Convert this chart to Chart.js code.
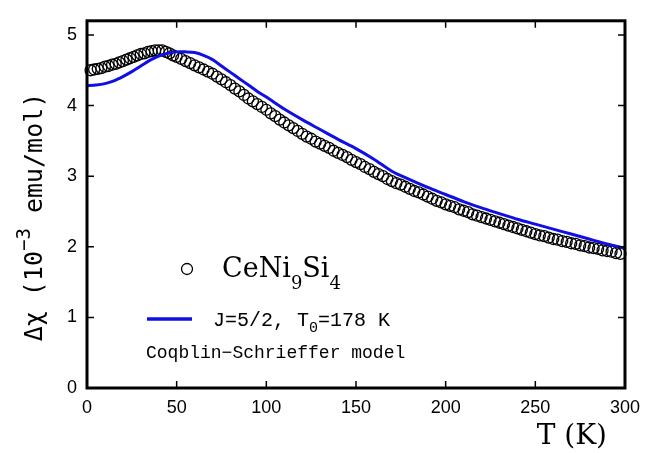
<!DOCTYPE html>
<html>
<head>
<meta charset="utf-8">
<script src="https://cdn.jsdelivr.net/npm/chart.js@4.4.1/dist/chart.umd.min.js"></script>
<style>
  html, body { margin: 0; padding: 0; background: #fff; }
  #wrap { width: 649px; height: 453px; position: relative; }
</style>
</head>
<body>
<div id="wrap"><canvas id="chi-chart"></canvas></div>
<script>
// Measured data: temperature (K) and delta chi (10^-3 emu/mol)
const dataT = [
  2, 4, 6, 8, 10, 12, 14, 16, 18, 20,
  22, 24, 26, 28, 30, 32, 34, 36, 38, 40,
  42, 44, 46, 48, 50,
  52.5, 55, 57.5, 60, 62.5, 65, 67.5, 70, 72.5, 75,
  77.5, 80, 82.5, 85, 87.5, 90, 92.5, 95, 97.5, 100,
  102.5, 105, 107.5, 110, 112.5, 115, 117.5, 120, 122.5, 125,
  127.5, 130, 132.5, 135, 137.5, 140, 142.5, 145, 147.5, 150,
  152.5, 155, 157.5, 160, 162.5, 165, 167.5, 170, 172.5, 175,
  177.5, 180, 182.5, 185, 187.5, 190, 192.5, 195, 197.5, 200,
  202.5, 205, 207.5, 210, 212.5, 215, 217.5, 220, 222.5, 225,
  227.5, 230, 232.5, 235, 237.5, 240, 242.5, 245, 247.5, 250,
  252.5, 255, 257.5, 260, 262.5, 265, 267.5, 270, 272.5, 275,
  277.5, 280, 282.5, 285, 287.5, 290, 292.5, 295, 297.5,
];
const dataChi = [
  4.50, 4.51, 4.52, 4.53, 4.55, 4.56, 4.58, 4.59, 4.61, 4.63,
  4.65, 4.67, 4.69, 4.71, 4.73, 4.74, 4.76, 4.77, 4.78, 4.78,
  4.78, 4.76, 4.74, 4.71, 4.69,
  4.66, 4.63, 4.60, 4.57, 4.54, 4.51, 4.48, 4.45, 4.41, 4.37,
  4.33, 4.29, 4.24, 4.20, 4.15, 4.10, 4.06, 4.02, 3.98, 3.94,
  3.89, 3.85, 3.80, 3.76, 3.72, 3.68, 3.64, 3.60, 3.56, 3.53,
  3.49, 3.46, 3.43, 3.40, 3.36, 3.33, 3.30, 3.27, 3.23, 3.20,
  3.17, 3.13, 3.10, 3.06, 3.03, 3.00, 2.96, 2.93, 2.90, 2.88,
  2.85, 2.82, 2.79, 2.77, 2.74, 2.71, 2.68, 2.65, 2.63, 2.60,
  2.58, 2.56, 2.53, 2.51, 2.49, 2.46, 2.44, 2.42, 2.40, 2.38,
  2.36, 2.34, 2.32, 2.30, 2.28, 2.26, 2.24, 2.22, 2.20, 2.18,
  2.16, 2.15, 2.13, 2.11, 2.10, 2.08, 2.07, 2.05, 2.04, 2.02,
  2.01, 1.99, 1.98, 1.97, 1.95, 1.94, 1.93, 1.91, 1.90,
];

// Coqblin-Schrieffer model, J=5/2, T0=178 K
const fitT = [
  0, 5, 10, 15, 20, 25, 30, 35, 40, 45,
  50, 55, 60, 65, 70, 75, 80, 85, 90, 95,
  100, 110, 120, 130, 140, 150, 160, 170, 180, 190,
  200, 210, 220, 230, 240, 250, 260, 270, 280, 290, 300,
];
const fitChi = [
  4.28, 4.29, 4.31, 4.35, 4.41, 4.48, 4.56, 4.64, 4.70, 4.74,
  4.76, 4.76, 4.75, 4.71, 4.65, 4.56, 4.47, 4.38, 4.29, 4.20,
  4.12, 3.95, 3.80, 3.66, 3.52, 3.39, 3.24, 3.07, 2.95, 2.84,
  2.74, 2.64, 2.55, 2.47, 2.39, 2.32, 2.25, 2.18, 2.11, 2.04, 1.98,
];

const xTicks = [0, 50, 100, 150, 200, 250, 300];
const yTicks = [0, 1, 2, 3, 4, 5];

const BLUE = '#1010e6';

// Frame, inward ticks, axis titles and the in-plot legend
const framePlugin = {
  id: 'frame',
  afterDraw(c) {
    const { ctx, chartArea: a } = c;
    const xs = c.scales.x;
    const ys = c.scales.y;
    ctx.save();
    ctx.strokeStyle = '#000';
    ctx.lineWidth = 1.5;
    ctx.beginPath();
    xTicks.slice(1, -1).forEach((v) => {
      const px = xs.getPixelForValue(v);
      ctx.moveTo(px, a.bottom); ctx.lineTo(px, a.bottom - 7);
      ctx.moveTo(px, a.top); ctx.lineTo(px, a.top + 7);
    });
    yTicks.slice(1).forEach((v) => {
      const py = ys.getPixelForValue(v);
      ctx.moveTo(a.left, py); ctx.lineTo(a.left + 7, py);
      ctx.moveTo(a.right, py); ctx.lineTo(a.right - 7, py);
    });
    ctx.stroke();
    ctx.lineWidth = 3;
    ctx.strokeRect(a.left, a.top, a.right - a.left, a.bottom - a.top);

    ctx.fillStyle = '#000';
    ctx.textBaseline = 'alphabetic';

    // x title
    ctx.font = '28px "DejaVu Serif"';
    ctx.textAlign = 'right';
    ctx.fillText('T (K)', 607, 444);

    const drawRun = (runs, x0, y0) => {
      let xx = x0;
      runs.forEach(([t, f, dy]) => {
        ctx.font = f;
        ctx.fillText(t, xx, y0 + dy);
        xx += ctx.measureText(t).width;
      });
    };

    // y title, rotated
    ctx.save();
    ctx.translate(42, 217);
    ctx.rotate(-Math.PI / 2);
    ctx.textAlign = 'left';
    const big = '25px "DejaVu Sans Mono"';
    const small = '19px "DejaVu Sans Mono"';
    const parts = [['Δχ (10', big, 0], ['−3', small, -12], [' emu/mol)', big, 0]];
    let w = 0;
    parts.forEach(([t, f]) => { ctx.font = f; w += ctx.measureText(t).width; });
    drawRun(parts, -w / 2, 0);
    ctx.restore();

    // legend: data symbol
    ctx.lineWidth = 1.3;
    ctx.beginPath();
    ctx.arc(187, 269, 5.5, 0, Math.PI * 2);
    ctx.stroke();
    ctx.textAlign = 'left';
    drawRun([
      ['CeNi', '27px "DejaVu Serif"', 0],
      ['9', '18px "DejaVu Serif"', 12],
      ['Si', '27px "DejaVu Serif"', 0],
      ['4', '18px "DejaVu Serif"', 12],
    ], 222, 277);

    // legend: model line
    ctx.strokeStyle = BLUE;
    ctx.lineWidth = 3.5;
    ctx.beginPath();
    ctx.moveTo(147, 319);
    ctx.lineTo(192, 319);
    ctx.stroke();
    drawRun([
      ['J=5/2, T', '20px "Liberation Mono"', 0],
      ['0', '15px "Liberation Mono"', 6],
      ['=178 K', '20px "Liberation Mono"', 0],
    ], 213, 326);
    ctx.font = '18px "Liberation Mono"';
    ctx.fillText('Coqblin−Schrieffer model', 146, 358);
    ctx.restore();
  },
};

const ctx = document.getElementById('chi-chart');
// eslint-disable-next-line no-unused-vars
const chart = new Chart(ctx, {
  type: 'scatter',
  data: {
    datasets: [
      // open circles
      {
        label: 'CeNi9Si4',
        data: dataT.map((t, i) => ({ x: t, y: dataChi[i] })),
        pointStyle: 'circle',
        pointRadius: 5.5,
        pointBorderWidth: 1.3,
        borderColor: '#000',
        backgroundColor: 'rgba(0,0,0,0)',
        clip: false,
        order: 2,
      },
      // blue model curve
      {
        label: 'J=5/2, T0=178 K',
        data: fitT.map((t, i) => ({ x: t, y: fitChi[i] })),
        showLine: true,
        borderColor: BLUE,
        borderWidth: 3,
        pointRadius: 0,
        tension: 0.3,
        order: 1,
      },
    ],
  },
  options: {
    animation: false,
    responsive: true,
    maintainAspectRatio: false,
    layout: {
      padding: { left: 0, right: 17, top: 6, bottom: 0 },
    },
    scales: {
      x: {
        type: 'linear',
        min: 0,
        max: 300,
        grid: { display: false, drawTicks: false },
        border: { display: false },
        afterBuildTicks: (s) => { s.ticks = xTicks.map((v) => ({ value: v })); },
        afterFit: (s) => { s.height = 65; },
        ticks: {
          padding: 9,
          maxRotation: 0,
          color: '#000',
          font: { family: 'Liberation Sans', size: 18 },
        },
      },
      y: {
        type: 'linear',
        min: 0,
        max: 5.2,
        grid: { display: false, drawTicks: false },
        border: { display: false },
        afterBuildTicks: (s) => { s.ticks = yTicks.map((v) => ({ value: v })); },
        afterFit: (s) => { s.width = 87; },
        ticks: {
          padding: 10,
          color: '#000',
          font: { family: 'Liberation Sans', size: 18 },
        },
      },
    },
    plugins: {
      legend: { display: false },
      tooltip: { enabled: false },
    },
  },
  plugins: [framePlugin],
});
</script>
</body>
</html>
